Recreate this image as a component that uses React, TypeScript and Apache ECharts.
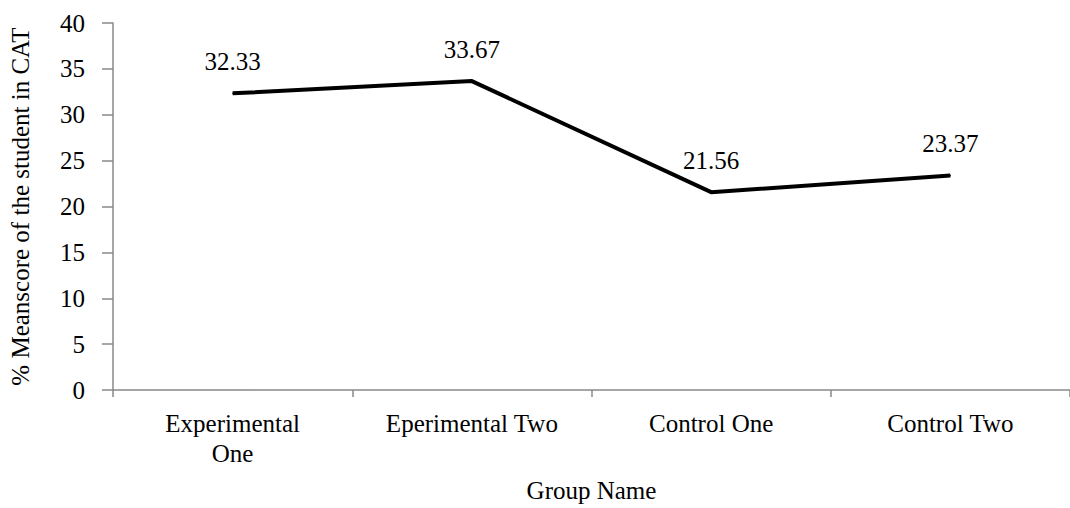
import React, { useEffect, useRef } from "react";
import * as echarts from "echarts";

const categories = ["Experimental\nOne", "Eperimental Two", "Control One", "Control Two"];
const meanScores = [32.33, 33.67, 21.56, 23.37];
const yTicks = { min: 0, max: 40, interval: 5 };

const FONT = "Liberation Serif";

export default function App() {
  const ref = useRef<HTMLDivElement>(null);
  useEffect(() => {
    if (!ref.current) return;
    const chart = echarts.init(ref.current, undefined, { renderer: "svg" });
    chart.setOption({
      animation: false,
      backgroundColor: "#ffffff",
      textStyle: { fontFamily: FONT },
      grid: { left: 112, right: -10, top: 23, bottom: 115, containLabel: false },
      xAxis: {
        type: "category",
        data: categories,
        boundaryGap: true,
        name: "Group Name",
        nameLocation: "middle",
        nameGap: 88,
        nameTextStyle: { fontFamily: FONT, fontSize: 25, color: "#000" },
        axisLine: { show: true, lineStyle: { color: "#888888", width: 1.5 } },
        axisTick: { show: true, length: 7, alignWithLabel: false, lineStyle: { color: "#888888", width: 1.5 } },
        axisLabel: {
          fontFamily: FONT,
          fontSize: 25,
          color: "#000",
          margin: 18,
          lineHeight: 30,
          interval: 0,
        },
        splitLine: { show: false },
      },
      yAxis: {
        type: "value",
        min: yTicks.min,
        max: yTicks.max,
        interval: yTicks.interval,
        name: "% Meanscore of the student in CAT",
        nameLocation: "middle",
        nameGap: 80,
        nameRotate: 90,
        nameTextStyle: { fontFamily: FONT, fontSize: 25, color: "#000" },
        axisLine: { show: true, lineStyle: { color: "#888888", width: 1.5 } },
        axisTick: { show: true, length: 11, inside: false, lineStyle: { color: "#888888", width: 1.5 } },
        axisLabel: { fontFamily: FONT, fontSize: 25, color: "#000", margin: 28 },
        splitLine: { show: false },
      },
      series: [
        {
          type: "line",
          data: meanScores,
          showSymbol: true,
          symbol: "circle",
          symbolSize: 1,
          itemStyle: { color: "#000000" },
          lineStyle: { color: "#000000", width: 4 },
          label: {
            show: true,
            position: "top",
            distance: 19,
            fontFamily: FONT,
            fontSize: 25,
            color: "#000",
            formatter: (p: any) => Number(p.value).toFixed(2),
          },
        },
      ],
    });
    return () => chart.dispose();
  }, []);
  return <div ref={ref} style={{ width: 1070, height: 508, position: "absolute", left: 0, top: 0 }} />;
}
